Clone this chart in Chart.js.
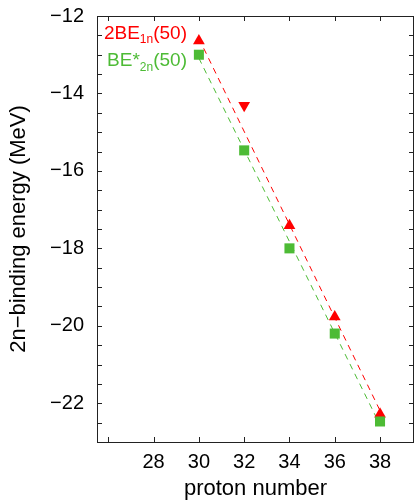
<!DOCTYPE html>
<html>
<head>
<meta charset="utf-8">
<script src="https://cdn.jsdelivr.net/npm/chart.js@4.4.1/dist/chart.umd.min.js"></script>
<style>
  html, body { margin: 0; padding: 0; background: #fff; }
  canvas { display: block; }
</style>
</head>
<body>
<canvas id="chart" width="415" height="502"></canvas>
<script>
// proton numbers of the N=50 isotones
const protons = [30, 32, 34, 36, 38];
// 2BE_1n(50), MeV (point at 32 is drawn as a down triangle)
const be1n = [-12.64, -14.31, -17.41, -19.77, -22.28];
// BE*_2n(50), MeV
const be2n = [-13.0, -15.47, -18.0, -20.2, -22.47];
// dashed straight fits, end points at Z = 30 and 38
const fitX = [30, 38];
const fit1n = [-12.58, -22.19];
const fit2n = [-13.09, -22.56];
// tick positions; 26 gets a tick but no label
const xTicks = [26, 28, 30, 32, 34, 36, 38];
const xLabels = ["", "28", "30", "32", "34", "36", "38"];

const RED = "#ff0000";
const GREEN = "#4dbb35";
const FONT = "'Liberation Sans', Arial, sans-serif";

const toPoints = (xs, ys) => xs.map((x, i) => ({ x: x, y: ys[i] }));

// ticks pointing into the frame on all four sides, plus the frame itself
const frameTicks = {
  id: "frameTicks",
  afterDraw(chart) {
    const { ctx, chartArea: a, scales } = chart;
    const len = 5;
    ctx.save();
    ctx.strokeStyle = "#222";
    ctx.lineWidth = 1;
    ctx.beginPath();
    scales.x.ticks.forEach((t) => {
      const px = Math.round(scales.x.getPixelForValue(t.value)) + 0.5;
      ctx.moveTo(px, a.bottom);
      ctx.lineTo(px, a.bottom - len);
      ctx.moveTo(px, a.top);
      ctx.lineTo(px, a.top + len);
    });
    scales.y.ticks.forEach((t) => {
      const py = Math.round(scales.y.getPixelForValue(t.value)) + 0.5;
      ctx.moveTo(a.left, py);
      ctx.lineTo(a.left + len, py);
      ctx.moveTo(a.right, py);
      ctx.lineTo(a.right - len, py);
    });
    ctx.stroke();
    ctx.strokeRect(a.left + 0.5, a.top + 0.5, a.right - a.left - 1, a.bottom - a.top);
    ctx.restore();
  },
};

// key text with subscripts, right aligned at the left of the first points
const keyText = {
  id: "keyText",
  afterDraw(chart) {
    const { ctx } = chart;
    const rows = [
      { color: RED, parts: ["2BE", "1n", "(50)"], base: 39, sub: 43 },
      { color: GREEN, parts: ["BE*", "2n", "(50)"], base: 66, sub: 71 },
    ];
    const right = 187;
    const big = "19px " + FONT;
    const small = "12px " + FONT;
    ctx.save();
    ctx.textAlign = "left";
    ctx.textBaseline = "alphabetic";
    rows.forEach((r) => {
      ctx.font = big;
      const w0 = ctx.measureText(r.parts[0]).width;
      const w2 = ctx.measureText(r.parts[2]).width;
      ctx.font = small;
      const w1 = ctx.measureText(r.parts[1]).width;
      let x = right - (w0 + w1 + w2);
      ctx.fillStyle = r.color;
      ctx.font = big;
      ctx.fillText(r.parts[0], x, r.base);
      x += w0;
      ctx.font = small;
      ctx.fillText(r.parts[1], x, r.sub);
      x += w1;
      ctx.font = big;
      ctx.fillText(r.parts[2], x, r.base);
    });
    ctx.restore();
  },
};

new Chart(document.getElementById("chart"), {
  type: "scatter",
  data: {
    datasets: [
      {
        label: "fit 2BE1n",
        type: "line",
        data: toPoints(fitX, fit1n),
        borderColor: RED,
        borderWidth: 1,
        borderDash: [6, 5],
        pointRadius: 0,
        fill: false,
        order: 3,
      },
      {
        label: "fit BE*2n",
        type: "line",
        data: toPoints(fitX, fit2n),
        borderColor: GREEN,
        borderWidth: 1,
        borderDash: [6, 5],
        pointRadius: 0,
        fill: false,
        order: 3,
      },
      {
        label: "2BE1n(50)",
        data: toPoints(protons, be1n),
        pointStyle: "triangle",
        pointRotation: [0, 180, 0, 0, 0],
        pointRadius: 6.8,
        pointBorderWidth: 0,
        backgroundColor: RED,
        borderColor: RED,
        order: 2,
      },
      {
        label: "BE*2n(50)",
        data: toPoints(protons, be2n),
        pointStyle: "rect",
        pointRadius: 7.1,
        pointBorderWidth: 0,
        backgroundColor: GREEN,
        borderColor: GREEN,
        order: 1,
      },
    ],
  },
  options: {
    responsive: false,
    animation: false,
    events: [],
    layout: { autoPadding: false, padding: { top: 16, right: 1, left: 0, bottom: 0 } },
    plugins: {
      legend: { display: false },
      tooltip: { enabled: false },
    },
    scales: {
      x: {
        type: "linear",
        min: 25.5,
        max: 39.5,
        afterBuildTicks: (s) => { s.ticks = xTicks.map((v) => ({ value: v })); },
        afterFit: (s) => {
          s.height = 60;
          s.paddingLeft = 0;
          s.paddingRight = 0;
        },
        grid: { display: false, drawTicks: false },
        border: { display: false },
        ticks: {
          autoSkip: false,
          maxRotation: 0,
          padding: 8,
          color: "#000",
          font: { family: FONT, size: 20 },
          callback: (v, i) => xLabels[i],
        },
        title: {
          display: true,
          text: "proton number",
          color: "#000",
          font: { family: FONT, size: 22 },
          padding: { top: 0, bottom: 0 },
        },
      },
      y: {
        type: "linear",
        min: -23,
        max: -12,
        afterFit: (s) => {
          s.width = 97;
          s.paddingTop = 0;
          s.paddingBottom = 0;
        },
        grid: { display: false, drawTicks: false },
        border: { display: false },
        ticks: {
          stepSize: 0.5,
          autoSkip: false,
          padding: 13,
          color: "#000",
          font: { family: FONT, size: 20 },
          callback: (v) => (v % 2 === 0 ? "\u2212" + Math.abs(v) : ""),
        },
        title: {
          display: true,
          text: "2n\u2212binding energy (MeV)",
          color: "#000",
          font: { family: FONT, size: 22 },
          padding: { top: 6, bottom: 0 },
        },
      },
    },
  },
  plugins: [frameTicks, keyText],
});
</script>
</body>
</html>
